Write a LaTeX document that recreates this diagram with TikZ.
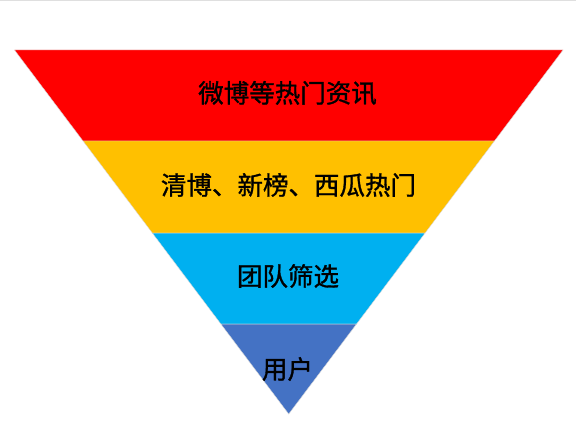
\documentclass[tikz,border=0pt]{standalone}
\usepackage{fontspec}
\newfontfamily\cjk[FakeBold=1.2]{Noto Sans CJK SC}
\usetikzlibrary{calc}
\definecolor{lyrred}{HTML}{FF0000}
\definecolor{lyryellow}{HTML}{FFC000}
\definecolor{lyrcyan}{HTML}{00B0F0}
\definecolor{lyrblue}{HTML}{4472C4}
\tikzset{
  band/.style={draw=white!85!black, line width=0.4pt, line join=miter},
  lbl/.style={font=\cjk\fontsize{25.5}{28}\selectfont, text=black, inner sep=0pt, anchor=center},
}
\begin{document}
\begin{tikzpicture}[x=1pt,y=1pt]
  \useasboundingbox (0,0) rectangle (576,432);
  \fill[white] (0,0) rectangle (576,432);
  \draw[gray!25, line width=1.5pt] (0,431.5) -- (576,431.5);
  \coordinate (TL) at (14.5,382);
  \coordinate (TR) at (563,382);
  \coordinate (A) at (288.7,18);
  \coordinate (L1) at ($(TL)!0.25!(A)$);
  \coordinate (R1) at ($(TR)!0.25!(A)$);
  \coordinate (L2) at ($(TL)!0.503!(A)$);
  \coordinate (R2) at ($(TR)!0.503!(A)$);
  \coordinate (L3) at ($(TL)!0.753!(A)$);
  \coordinate (R3) at ($(TR)!0.753!(A)$);
  \filldraw[band, fill=lyrred] (TL) -- (TR) -- (R1) -- (L1) -- cycle;
  \filldraw[band, fill=lyryellow] (L1) -- (R1) -- (R2) -- (L2) -- cycle;
  \filldraw[band, fill=lyrcyan] (L2) -- (R2) -- (R3) -- (L3) -- cycle;
  \filldraw[band, fill=lyrblue] (L3) -- (R3) -- (A) -- cycle;
  \node[lbl] (t1) at (287.5,339) {微博等热门资讯};
  \node[lbl] (t2) at (288.5,247) {清博、新榜、西瓜热门};
  \node[lbl] (t3) at (288,156) {团队筛选};
  \node[lbl] (t4) at (287.5,63) {用户};
\end{tikzpicture}
\end{document}
